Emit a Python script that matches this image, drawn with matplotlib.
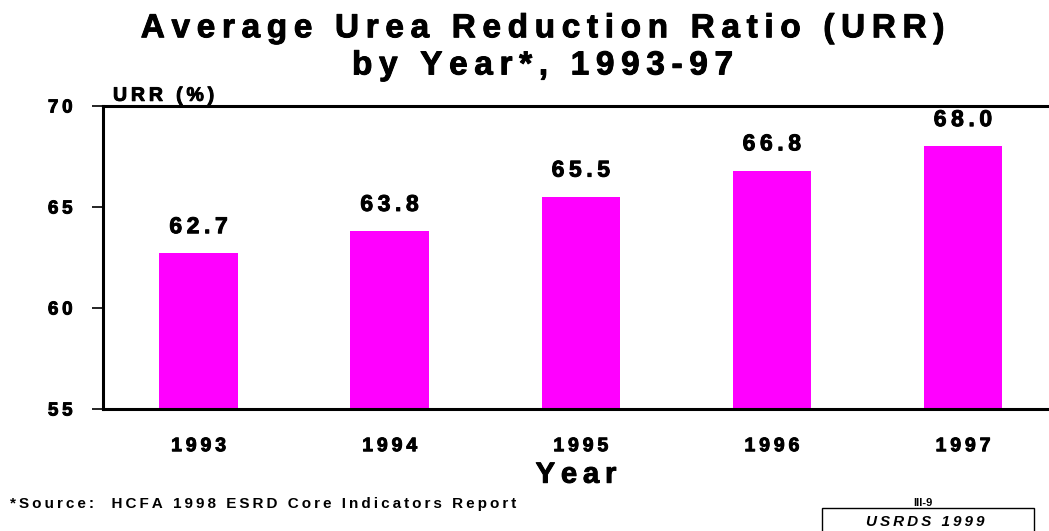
import matplotlib
matplotlib.use("Agg")
import matplotlib.pyplot as plt
import matplotlib.patheffects as pe
from matplotlib.patches import Rectangle

years = ["1993", "1994", "1995", "1996", "1997"]
urr = [62.7, 63.8, 65.5, 66.8, 68.0]
yticks = [55, 60, 65, 70]

BAR_COLOR = "#ff00ff"
SP = "\u2009"
FONT = ["Liberation Sans", "DejaVu Sans"]
# thicker strokes, the slide font is heavy
HEAVY = [pe.withStroke(linewidth=0.7, foreground="black")]


def spaced(s, sp=SP):
    # fake letter spacing like the old slide
    return sp.join(s)


plt.rcParams["font.family"] = FONT
plt.rcParams["font.weight"] = "bold"

fig = plt.figure(figsize=(10.49, 5.31), dpi=100)
ax = fig.add_axes([103 / 1049, 1 - 409 / 531, 1 - 103 / 1049, (409 - 106) / 531])

x = list(range(len(years)))
ax.bar(x, urr, width=0.41, color=BAR_COLOR, bottom=0, zorder=2)
ax.set_ylim(55, 70)
ax.set_xlim(-0.5, 4.45)

for xi, v in zip(x, urr):
    ax.annotate(spaced(f"{v:.1f}"), (xi, v), xytext=(0, 11), textcoords="offset points",
                ha="center", va="bottom", fontsize=16.5, fontweight="bold", path_effects=HEAVY)

ax.set_yticks(yticks)
ax.set_yticklabels([spaced(str(t)) for t in yticks], fontsize=13.5, fontweight="bold")
ax.set_xticks(x)
ax.set_xticklabels([spaced(y) for y in years], fontsize=14, fontweight="bold")
for lbl in ax.get_xticklabels() + ax.get_yticklabels():
    lbl.set_path_effects(HEAVY)
ax.tick_params(axis="x", length=0, pad=21)
ax.tick_params(axis="y", length=8, width=1.2, direction="out", pad=14)

for side in ["left", "top", "bottom"]:
    ax.spines[side].set_linewidth(2.2)
ax.spines["right"].set_visible(False)

ax.set_xlabel(spaced("Year"), fontsize=21, fontweight="bold", labelpad=4, path_effects=HEAVY)
ax.text(0.0106, 1.004, spaced("URR (%)"), transform=ax.transAxes, ha="left", va="bottom",
        fontsize=14, fontweight="bold", path_effects=HEAVY)

fig.text(0.517, 0.975, spaced("Average Urea Reduction Ratio (URR)"), ha="center", va="top",
         fontsize=24, fontweight="bold", path_effects=HEAVY)
fig.text(0.517, 0.905, spaced("by Year*, 1993-97"), ha="center", va="top",
         fontsize=24, fontweight="bold", path_effects=HEAVY)

fig.text(10 / 1049, 1 - 508 / 531, spaced("*Source:  HCFA 1998 ESRD Core Indicators Report"),
         ha="left", va="baseline", fontsize=11, fontweight="bold")

fig.text(923 / 1049, 1 - 506 / 531, "III-9", ha="center", va="baseline", fontsize=8, fontweight="bold")
fig.patches.append(Rectangle((822 / 1049, -0.01), (1034 - 822) / 1049, 0.01 + (531 - 508) / 531,
                             transform=fig.transFigure, fill=False, lw=1.0, ec="black"))
fig.text(925 / 1049, 1 - 526 / 531, spaced("USRDS 1999"), ha="center", va="baseline",
         fontsize=11, fontweight="bold", style="italic")

fig.savefig("out.png", dpi=100)
